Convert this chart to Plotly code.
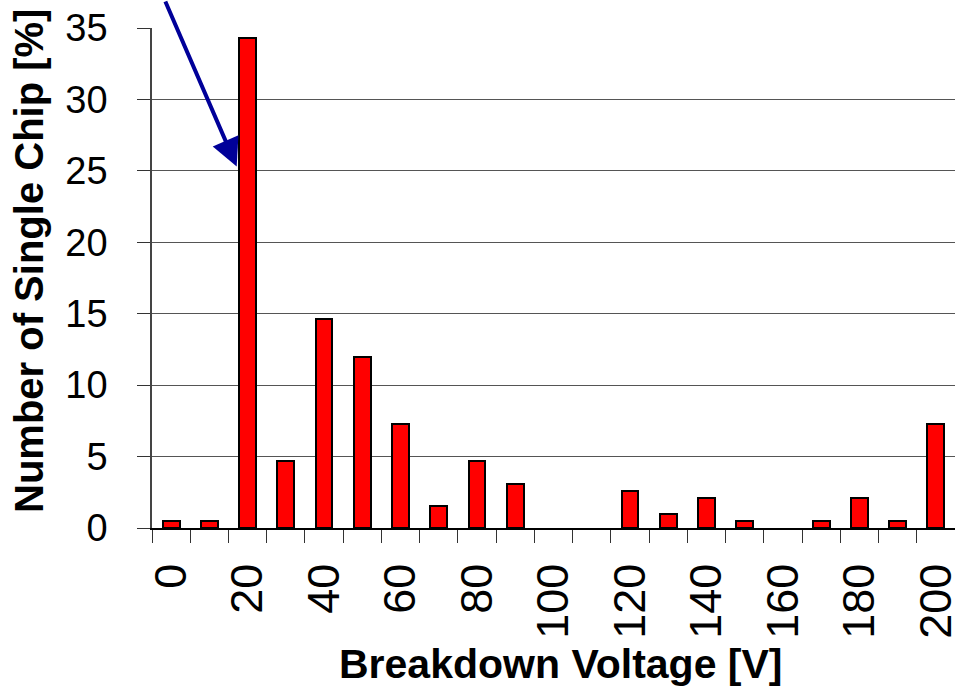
import plotly.graph_objects as go

# breakdown voltage bins [V] and share of single chips [%]
voltage = [0, 10, 20, 30, 40, 50, 60, 70, 80, 90, 100,
           110, 120, 130, 140, 150, 160, 170, 180, 190, 200]
share = [0.5, 0.5, 34.3, 4.7, 14.6, 12.0, 7.3, 1.55, 4.7, 3.1, 0,
         0, 2.6, 1.0, 2.1, 0.5, 0, 0.5, 2.1, 0.5, 7.3]
label_vals = [0, 20, 40, 60, 80, 100, 120, 140, 160, 180, 200]
y_ticks = [0, 5, 10, 15, 20, 25, 30, 35]

FONT = 'Liberation Sans, Arial, sans-serif'

fig = go.Figure()

# empty bins get no outline so nothing is drawn for them
fig.add_trace(go.Bar(
    x=voltage,
    y=share,
    width=4.4,
    marker=dict(color='#FF0000',
                line=dict(color='black', width=[2 if v > 0 else 0 for v in share])),
    showlegend=False
))

fig.update_layout(
    width=955,
    height=694,
    margin=dict(l=152, r=0, t=28, b=166),
    plot_bgcolor='white',
    paper_bgcolor='white',
    font=dict(family=FONT, color='black'),
    bargap=0,
)

fig.update_xaxes(
    range=[-5, 205],
    automargin=False,
    tickmode='array',
    tickvals=label_vals,
    ticktext=[str(v) for v in label_vals],
    tickangle=-90,
    tickfont=dict(size=45, family=FONT),
    ticks='',
    ticklabelstandoff=16,
    ticklabeloverflow='allow',
    minor=dict(tick0=-5, dtick=10, ticks='outside', ticklen=13,
               tickcolor='#333', tickwidth=1, showgrid=False),
    showgrid=False,
    showline=True,
    linecolor='black',
    linewidth=1.5,
    zeroline=False,
)

fig.update_yaxes(
    range=[0, 35],
    automargin=False,
    tickmode='array',
    tickvals=y_ticks,
    tickfont=dict(size=38, family=FONT),
    ticks='outside',
    ticklen=13,
    tickcolor='#333',
    ticklabelstandoff=22,
    showgrid=True,
    gridcolor='#555',
    gridwidth=1,
    showline=True,
    linecolor='#444',
    linewidth=1.5,
    zeroline=False,
)

# axis titles
fig.add_annotation(
    text='<b>Number of Single Chip [%]</b>',
    xref='paper', yref='paper',
    x=(29 - 152) / 803, y=(528 - 261) / 500,
    textangle=-90, showarrow=False,
    font=dict(size=40, family=FONT, color='black'),
    xanchor='center', yanchor='middle'
)
fig.add_annotation(
    text='<b>Breakdown Voltage [V]</b>',
    xref='paper', yref='paper',
    x=(560 - 152) / 803, y=(528 - 664) / 500,
    showarrow=False,
    font=dict(size=41, family=FONT, color='black'),
    xanchor='center', yanchor='middle'
)

# arrow pointing at the 20 V peak
fig.add_annotation(
    x=17.15, y=25.3,
    xref='x', yref='y',
    ax=-72, ay=-185,
    text='',
    showarrow=True,
    arrowhead=2,
    arrowsize=1.4,
    arrowwidth=4,
    arrowcolor='#000099'
)

# drop the default page margin so the figure sits at the window corner
fig.write_html("out.html", config={'displayModeBar': False},
               post_script="document.body.style.margin='0';")
